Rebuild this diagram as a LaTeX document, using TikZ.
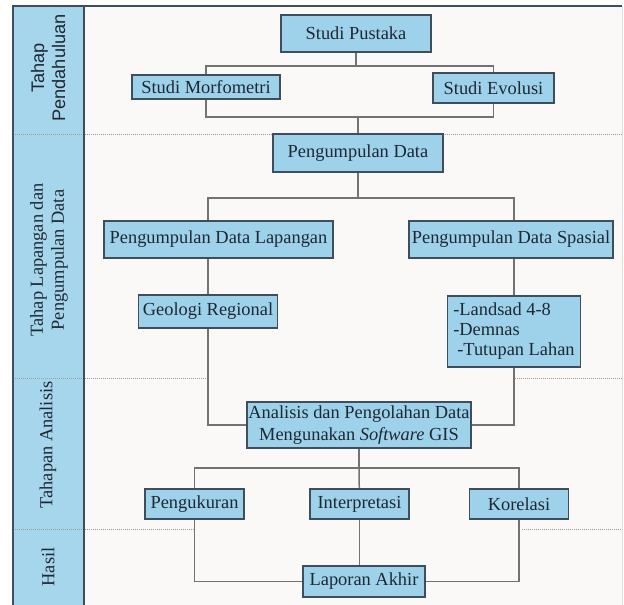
\documentclass[tikz,border=0pt]{standalone}
\usepackage{fontspec}
\setmainfont{Liberation Serif}
\newfontfamily\hurufsans{Liberation Sans}
\usepackage{tikz}
\usetikzlibrary{positioning,backgrounds}
\definecolor{biru}{HTML}{9DD2EA}
\definecolor{birukolom}{HTML}{A6D6EC}
\definecolor{tepi}{HTML}{3E4E5C}
\definecolor{abu}{HTML}{727272}
\definecolor{latar}{HTML}{FAF9F7}
\definecolor{teks}{HTML}{1E2833}
\tikzset{
  kotak/.style  = {draw=tepi, fill=biru, line width=1.2pt, inner sep=2pt, align=center,
                   text=teks, font=\fontsize{18.4}{21}\selectfont},
  hubung/.style = {draw=abu, line width=1.5pt},
  batas/.style  = {draw=abu!70, line width=1pt, densely dotted},
  tahap/.style  = {rotate=90, align=center, text=teks, inner sep=0pt,
                   font=\fontsize{18.4}{21}\selectfont}
}

\begin{document}
\begin{tikzpicture}[x=1pt,y=-1pt]
        \useasboundingbox (0,0) rectangle (624,605);

        \node[kotak, minimum width=150pt, minimum height=37pt] (pustaka) at (356,33.5) {Studi Pustaka};
        \node[kotak, minimum width=148pt, minimum height=24pt] (morfo) at (206,87) {Studi Morfometri};
        \node[kotak, minimum width=121pt, minimum height=30pt] (evolusi) at (493.5,88) {Studi Evolusi};
        \node[kotak, minimum width=170pt, minimum height=38pt] (kumpul) at (358,153) {Pengumpulan Data};
        \node[kotak, minimum width=229pt, minimum height=37pt] (lapangan) at (218.5,239.5) {Pengumpulan Data Lapangan};
        \node[kotak, minimum width=204pt, minimum height=37pt] (spasial) at (511,239.5) {Pengumpulan Data Spasial};
        \node[kotak, minimum width=139pt, minimum height=33pt] (geologi) at (208,311.5) {Geologi Regional};
        \node[kotak, minimum width=133pt, minimum height=71pt, align=left,
              font=\fontsize{18.4}{20}\selectfont] (landsad) at (514,331.5) {-Landsad 4-8\\-Demnas\\\hspace{4pt}-Tutupan Lahan};
        \node[kotak, minimum width=224pt, minimum height=46pt, inner sep=1pt,
              font=\fontsize{18.4}{22}\selectfont] (analisis) at (359,425) {Analisis dan Pengolahan Data\\Mengunakan \textit{Software} GIS};
        \node[kotak, minimum width=99pt, minimum height=30pt] (ukur) at (194.5,504) {Pengukuran};
        \node[kotak, minimum width=99pt, minimum height=30pt] (interpretasi) at (359.5,504) {Interpretasi};
        \node[kotak, minimum width=99pt, minimum height=30pt] (korelasi) at (519,504) {Korelasi};
        \node[kotak, minimum width=122pt, minimum height=31pt] (laporan) at (364,581.5) {Laporan Akhir};

        \node[tahap, font=\hurufsans\fontsize{18.2}{21}\selectfont] (t1) at (48,68) {Tahap\\Pendahuluan};
        \node[tahap] (t2) at (49,260) {Tahap Lapangan dan\\Pengumpulan Data};
        \node[tahap] (t3) at (48,445) {Tahapan Analisis};
        \node[tahap] (t4) at (48,567) {Hasil};

        \coordinate (j1) at (356,66);
        \coordinate (j2) at (358,117);
        \coordinate (j3) at (358,198);
        \coordinate (j4) at (359,468);

        \begin{scope}[on background layer]
            \fill[latar] (13,6) rectangle (622,605);
            \fill[birukolom] (13,6) rectangle (84,605);
            \draw[batas] (13,134) -- (622,134);
            \draw[batas] (13,378) -- (208,378);
            \draw[batas] (515,378) -- (622,378);
            \draw[batas] (13,529) -- (194,529);
            \draw[batas] (522,529) -- (622,529);
            \draw[tepi, line width=1.5pt] (13,605) -- (13,6) -- (622,6);
            \draw[tepi, line width=1.5pt] (84,6) -- (84,605);
            \draw[gray!25, line width=1pt] (622,6) -- (622,605);

            \draw[hubung] (pustaka) -- (j1) -| (morfo) |- (j2) -- (kumpul);
            \draw[hubung] (j1) -| (evolusi) |- (j2);
            \draw[hubung] (kumpul) -- (j3) -| (geologi |- lapangan.north);
            \draw[hubung] (j3) -| (landsad |- spasial.north);
            \draw[hubung] (geologi |- lapangan.south) -- (geologi);
            \draw[hubung] (landsad |- spasial.south) -- (landsad);
            \draw[hubung] (geologi) |- (analisis);
            \draw[hubung] (landsad) |- (analisis);
            \draw[hubung] (analisis) -- (j4) -| (ukur);
            \draw[hubung] (j4) -| (korelasi);
            \draw[hubung] (j4) -- (interpretasi);
            \draw[hubung] (ukur) |- (laporan);
            \draw[hubung] (interpretasi) -- (interpretasi |- laporan.north);
            \draw[hubung] (korelasi) |- (laporan);
        \end{scope}
    \end{tikzpicture}
\end{document}
